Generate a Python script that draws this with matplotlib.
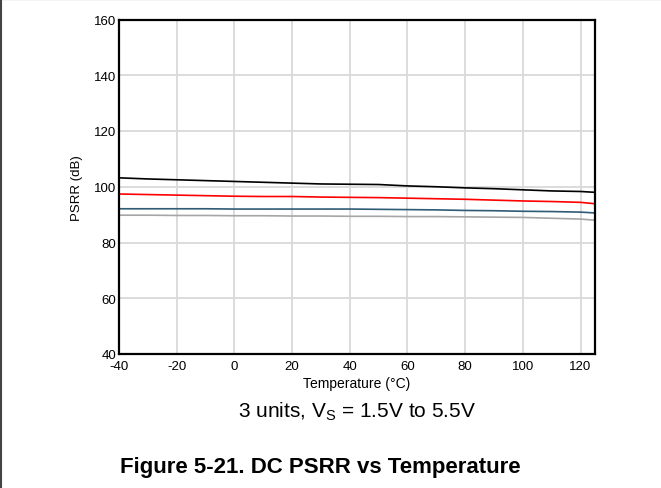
import matplotlib
matplotlib.use("Agg")
import matplotlib.pyplot as plt

plt.rcParams['font.family'] = ['Liberation Sans', 'DejaVu Sans']
plt.rcParams['axes.unicode_minus'] = False

temperature = [-40, -30, -20, -10, 0, 10, 20, 30, 40, 50, 60, 70, 80, 90, 100, 110, 120, 125]
psrr_unit1 = [103.2, 102.8, 102.5, 102.2, 101.9, 101.6, 101.3, 101.0, 100.9, 100.8,
              100.3, 100.0, 99.6, 99.3, 98.9, 98.5, 98.3, 98.0]
psrr_unit2 = [97.4, 97.2, 97.0, 96.8, 96.6, 96.5, 96.5, 96.3, 96.2, 96.1,
              95.9, 95.7, 95.5, 95.2, 94.9, 94.7, 94.4, 93.9]
psrr_unit3 = [92.1, 92.1, 92.1, 92.1, 92.0, 92.0, 92.0, 92.0, 92.0, 91.9,
              91.8, 91.7, 91.5, 91.4, 91.2, 91.1, 90.9, 90.6]
psrr_floor = [89.8, 89.8, 89.7, 89.7, 89.6, 89.6, 89.5, 89.5, 89.4, 89.4,
              89.3, 89.3, 89.2, 89.1, 89.0, 88.7, 88.4, 88.0]

x_ticks = [-40, -20, 0, 20, 40, 60, 80, 100, 120]
y_ticks = [40, 60, 80, 100, 120, 140, 160]

fig = plt.figure(figsize=(6.61, 4.89), dpi=100)
ax = fig.add_axes([119 / 661, 1 - 355 / 489, (595 - 119) / 661, (355 - 20.5) / 489])

ax.plot(temperature, psrr_floor, color='#a6a6a6', lw=1.2)
ax.plot(temperature, psrr_unit3, color='#2f5b74', lw=1.2)
ax.plot(temperature, psrr_unit2, color='#ff0000', lw=1.2)
ax.plot(temperature, psrr_unit1, color='#000000', lw=1.2)

ax.set_xlim(-40, 125)
ax.set_ylim(40, 160)
ax.set_xticks(x_ticks)
ax.set_yticks(y_ticks)
ax.grid(True, color='#d9d9d9', lw=1.3)
ax.set_axisbelow(True)
ax.tick_params(length=0, labelsize=9.5)
ax.tick_params(axis='x', pad=4)
ax.tick_params(axis='y', pad=2)
for s in ax.spines.values():
    s.set_linewidth(1.6)

ax.set_xlabel('Temperature (°C)', fontsize=10, labelpad=3)
ax.set_ylabel('PSRR (dB)', fontsize=9.5, labelpad=8)

fig.text(357 / 661, 1 - 412 / 489, r'3 units, V$_\mathregular{S}$ = 1.5V to 5.5V',
         fontsize=15, ha='center', va='center')
fig.text(320 / 661, 1 - 468 / 489, 'Figure 5-21. DC PSRR vs Temperature',
         fontsize=16, fontweight='bold', ha='center', va='center')

# page frame: top and left edges only
fig.add_artist(plt.Line2D([0, 1], [0.999, 0.999], color='black', lw=1.5, transform=fig.transFigure))
fig.add_artist(plt.Line2D([0.001, 0.001], [0, 1], color='#444444', lw=1.5, transform=fig.transFigure))

fig.savefig('out.png', dpi=100)
